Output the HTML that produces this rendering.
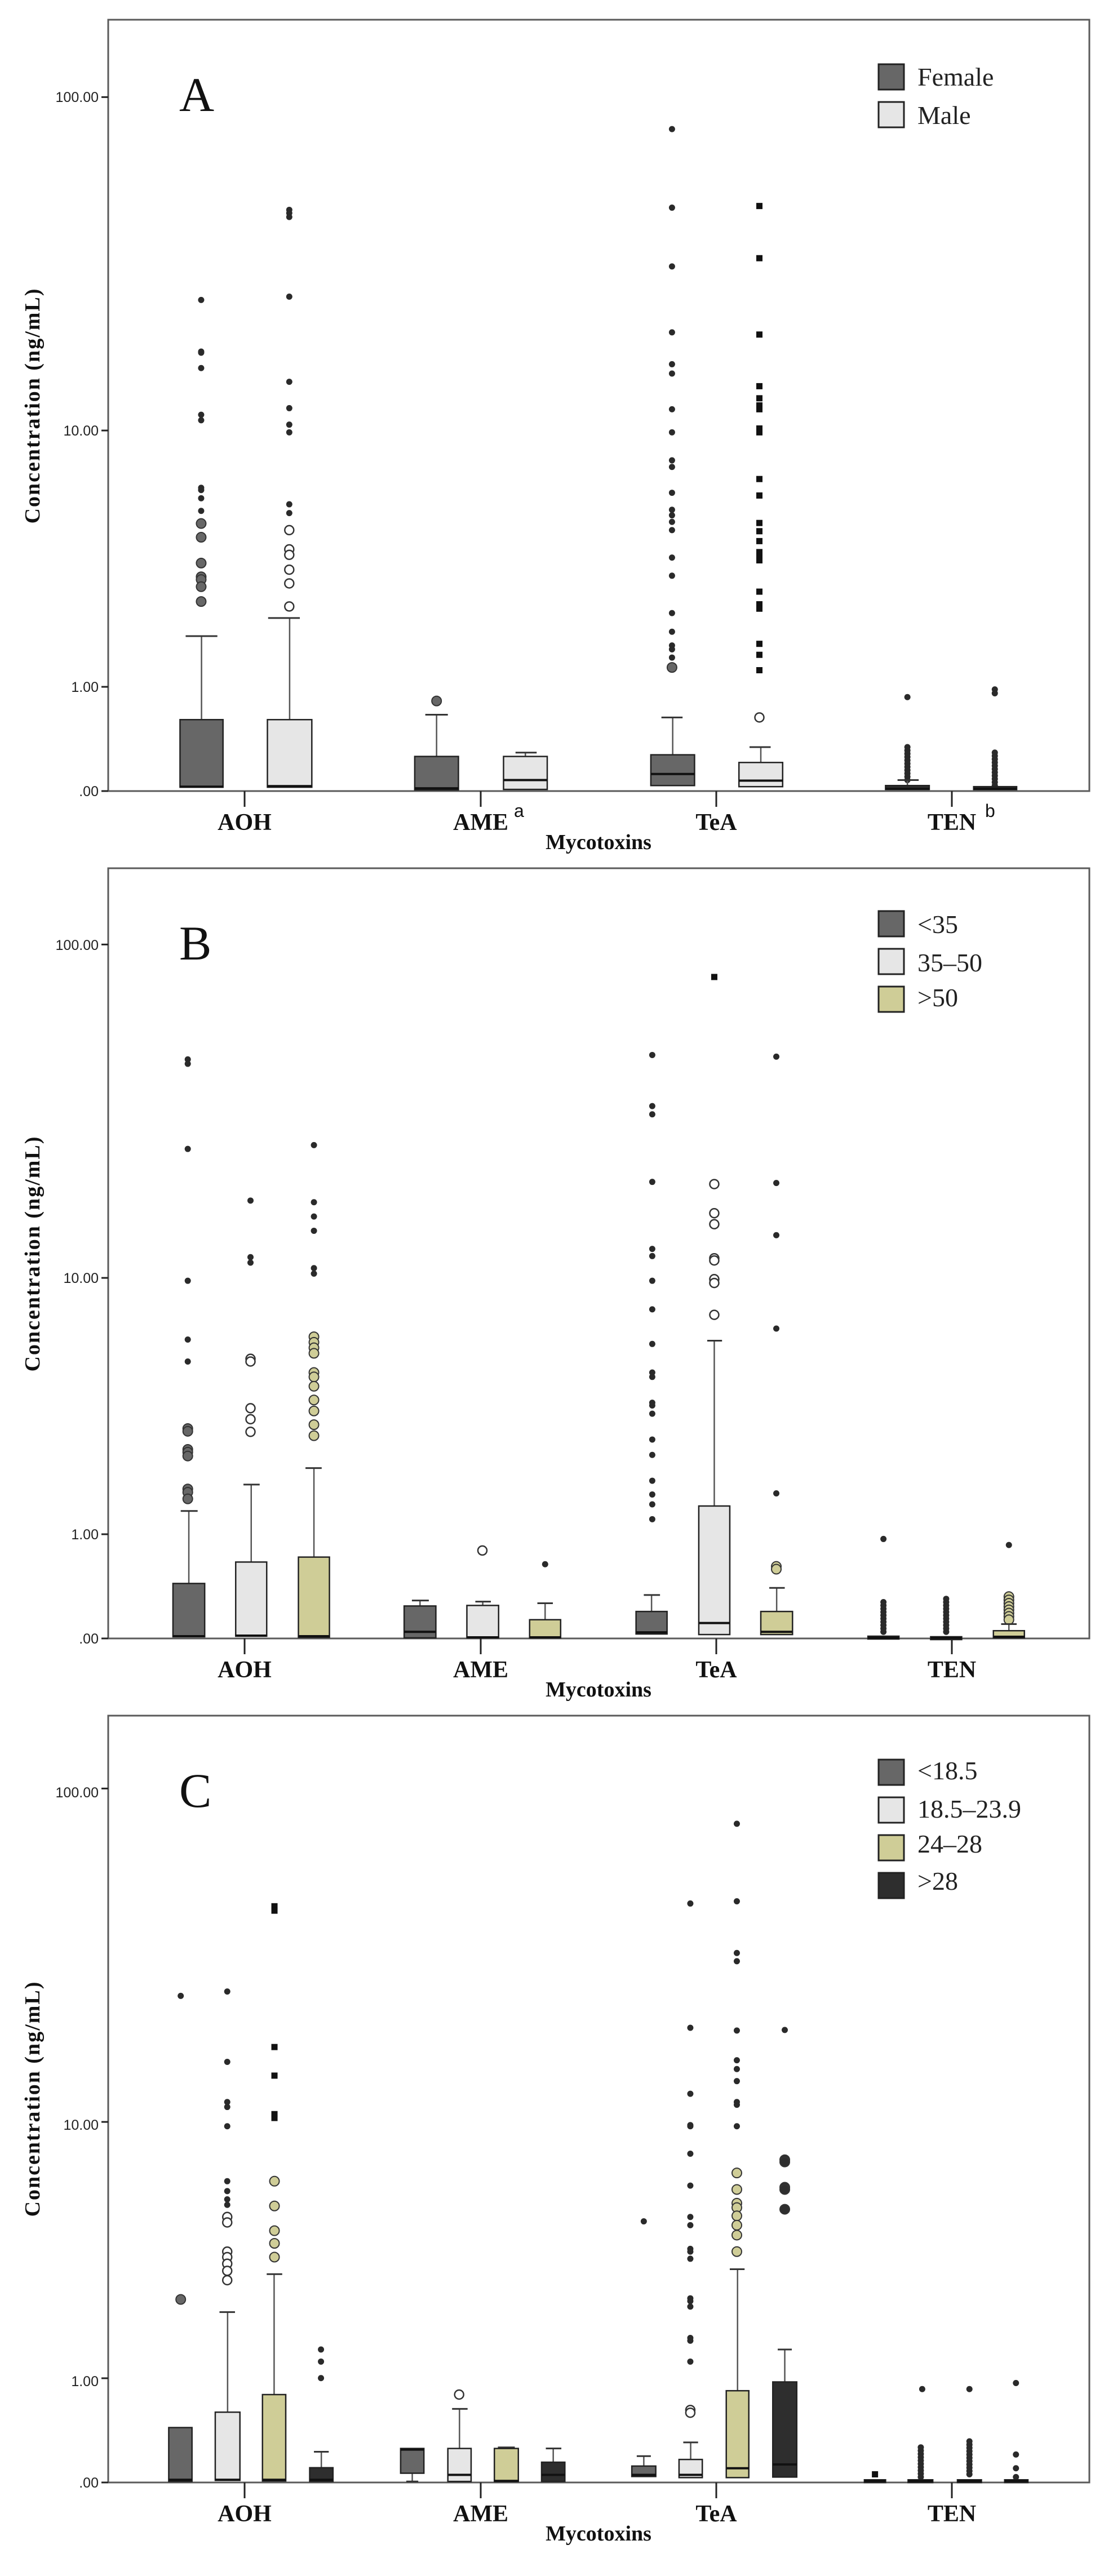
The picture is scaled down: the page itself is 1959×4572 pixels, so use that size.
<!DOCTYPE html>
<html><head><meta charset="utf-8"><style>
html,body{margin:0;padding:0;background:#fff;}
svg{display:block;}
.tk{font-family:"Liberation Sans",sans-serif;font-size:25px;fill:#222;}
.cat{font-family:"Liberation Serif",serif;font-size:42px;font-weight:bold;fill:#111;}
.mx{font-family:"Liberation Serif",serif;font-size:38px;font-weight:bold;fill:#111;}
.yl{font-family:"Liberation Serif",serif;font-size:38px;font-weight:bold;fill:#111;letter-spacing:2px;}
.pl{font-family:"Liberation Serif",serif;font-size:86px;fill:#111;}
.lg{font-family:"Liberation Serif",serif;font-size:46px;fill:#222;}
.sup{font-family:"Liberation Sans",sans-serif;font-size:32px;fill:#111;}
</style></head><body>
<svg id="s" width="1959" height="4572" viewBox="0 0 1959 4572" xmlns="http://www.w3.org/2000/svg">
<rect width="1959" height="4572" fill="#fff"/>
<g id="shapes"></g>
<text class="pl" x="318" y="197">A</text>
<text class="tk" x="175" y="181" text-anchor="end">100.00</text>
<text class="tk" x="175" y="773" text-anchor="end">10.00</text>
<text class="tk" x="175" y="1228" text-anchor="end">1.00</text>
<text class="tk" x="175" y="1413" text-anchor="end">.00</text>
<text class="cat" x="434" y="1473" text-anchor="middle">AOH</text>
<text class="cat" x="853" y="1473" text-anchor="middle">AME</text><text class="sup" x="912" y="1450">a</text>
<text class="cat" x="1271" y="1473" text-anchor="middle">TeA</text>
<text class="cat" x="1689" y="1473" text-anchor="middle">TEN</text><text class="sup" x="1748" y="1450">b</text>
<text class="mx" x="1062" y="1507" text-anchor="middle">Mycotoxins</text>
<text class="yl" transform="translate(70,720) rotate(-90)" text-anchor="middle">Concentration (ng/mL)</text>
<text class="lg" x="1628" y="152">Female</text>
<text class="lg" x="1628" y="220">Male</text>
<text class="pl" x="318" y="1703">B</text>
<text class="tk" x="175" y="1686" text-anchor="end">100.00</text>
<text class="tk" x="175" y="2277" text-anchor="end">10.00</text>
<text class="tk" x="175" y="2732" text-anchor="end">1.00</text>
<text class="tk" x="175" y="2917" text-anchor="end">.00</text>
<text class="cat" x="434" y="2977" text-anchor="middle">AOH</text>
<text class="cat" x="853" y="2977" text-anchor="middle">AME</text>
<text class="cat" x="1271" y="2977" text-anchor="middle">TeA</text>
<text class="cat" x="1689" y="2977" text-anchor="middle">TEN</text>
<text class="mx" x="1062" y="3011" text-anchor="middle">Mycotoxins</text>
<text class="yl" transform="translate(70,2225) rotate(-90)" text-anchor="middle">Concentration (ng/mL)</text>
<text class="lg" x="1628" y="1656">&lt;35</text>
<text class="lg" x="1628" y="1724">35–50</text>
<text class="lg" x="1628" y="1786">&gt;50</text>
<text class="pl" x="318" y="3207">C</text>
<text class="tk" x="175" y="3190" text-anchor="end">100.00</text>
<text class="tk" x="175" y="3780" text-anchor="end">10.00</text>
<text class="tk" x="175" y="4235" text-anchor="end">1.00</text>
<text class="tk" x="175" y="4415" text-anchor="end">.00</text>
<text class="cat" x="434" y="4475" text-anchor="middle">AOH</text>
<text class="cat" x="853" y="4475" text-anchor="middle">AME</text>
<text class="cat" x="1271" y="4475" text-anchor="middle">TeA</text>
<text class="cat" x="1689" y="4475" text-anchor="middle">TEN</text>
<text class="mx" x="1062" y="4509" text-anchor="middle">Mycotoxins</text>
<text class="yl" transform="translate(70,3725) rotate(-90)" text-anchor="middle">Concentration (ng/mL)</text>
<text class="lg" x="1628" y="3158">&lt;18.5</text>
<text class="lg" x="1628" y="3226">18.5–23.9</text>
<text class="lg" x="1628" y="3288">24–28</text>
<text class="lg" x="1628" y="3354">&gt;28</text>
</svg>
<script>
(function(){
var NS="http://www.w3.org/2000/svg",G=document.getElementById("shapes");
var DG="#676767",LG="#e6e6e6",KH="#cfcd97",BK="#2e2e2e";
function X(x){return x*1.2507-2;}
function el(t,a){var e=document.createElementNS(NS,t);for(var k in a)e.setAttribute(k,a[k]);G.appendChild(e);return e;}
var P;
function Y(y){return P.oy+y*P.fy;}
function panel(top,axis){
 el("rect",{x:192,y:top,width:1741,height:axis-top,fill:"none",stroke:"#5a5a5a","stroke-width":3});
 var k=614.5;[0,1,10,100].forEach(function(v){var y=axis-k*Math.log10(v+1);el("line",{x1:180,x2:192,y1:y,y2:y,stroke:"#222","stroke-width":3});});
 [434,853,1271,1689].forEach(function(x){el("line",{x1:x,x2:x,y1:axis,y2:axis+28,stroke:"#222","stroke-width":3});});
}
function legend(top,cols){cols.forEach(function(c,i){el("rect",{x:1559,y:top+i*67,width:45,height:45,fill:c,stroke:"#222","stroke-width":3});});}
function bx(x1,x2,t,b,m,w,c1,c2,fill,wb){
 var cx=X((x1+x2)/2);
 if(w!=null){el("line",{x1:cx,x2:cx,y1:Y(w),y2:Y(t),stroke:"#555","stroke-width":2.5});
  el("line",{x1:X(c1),x2:X(c2),y1:Y(w),y2:Y(w),stroke:"#333","stroke-width":3});}
 if(wb!=null){el("line",{x1:cx,x2:cx,y1:Y(b),y2:Y(wb),stroke:"#555","stroke-width":2.5});
  el("line",{x1:X(x1+8),x2:X(x2-8),y1:Y(wb),y2:Y(wb),stroke:"#333","stroke-width":3});}
 var h=Math.max(Y(b)-Y(t),5);
 el("rect",{x:X(x1),y:Y(t),width:X(x2)-X(x1),height:h,fill:fill,stroke:"#222","stroke-width":2.5});
 el("line",{x1:X(x1),x2:X(x2),y1:Y(m),y2:Y(m),stroke:"#111","stroke-width":4});
}
function pts(x,ys,type,col){ys.forEach(function(y){mk(x,y,type,col);});}
function dense(x,y1,y2,type,col){for(var y=y1;y<=y2;y+=6)mk(x,y,type,col);}
function mk(x,y,type,col){
 var cx=X(x),cy=Y(y);
 if(type=="s"){el("circle",{cx:cx,cy:cy,r:5.5,fill:"#2a2a2a"});}
 else if(type=="q"){el("rect",{x:cx-5.5,y:cy-5.5,width:11,height:11,fill:"#111"});}
 else if(type=="o"){el("circle",{cx:cx,cy:cy,r:8,fill:"#fff",stroke:"#333","stroke-width":2.5});}
 else {el("circle",{cx:cx,cy:cy,r:8.5,fill:col||DG,stroke:"#333","stroke-width":2});}
}
P={oy:0,fy:0.975};
panel(35,1404);legend(114,[DG,LG]);
bx(257,318,1310,1433,1432,1158,265,310,DG);
pts(287,[546,640,642,670,755,765,888,892,907,930],"s");
pts(287,[953,978,1025,1050,1055,1068,1095],"c",DG);
bx(381,444,1310,1433,1431,1125,382,427,LG);
pts(412,[382,388,395,540,695,743,773,787,918,934],"s");
pts(412,[965,1000,1010,1037,1062,1104],"o");
bx(590,652,1377,1438,1435,1301,605,637,DG);mk(621,1276,"c",DG);
bx(716,778,1377,1437,1420,1370,733,763,LG);
bx(925,987,1374,1430,1409,1306,940,970,DG);
pts(955,[235,378,485,605,663,680,745,787,838,850,897,928,938,950,965,1015,1048,1116,1150,1175,1182,1197],"s");
mk(955,1215,"c",DG);
bx(1050,1112,1388,1432,1421,1360,1065,1095,LG);
pts(1079,[375,470,609,703,725,738,745,780,787,872,902,952,967,985,1005,1012,1020,1077,1100,1108,1172,1192,1220],"q");
mk(1079,1306,"o");
dense(1289,1360,1420,"s");mk(1289,1269,"s");
bx(1258,1320,1430,1437,1436,1420,1275,1305,BK);
dense(1413,1370,1430,"s");pts(1413,[1255,1262],"s");
bx(1383,1444,1432,1437,1436,null,0,0,BK);
P={oy:1500,fy:0.975};
panel(1541,2908);legend(1617,[DG,LG,KH]);
bx(247,292,1344,1441,1440,1212,258,282,DG);
pts(268,[390,398,553,793,900,940],"s");
pts(268,[1062,1067,1100,1105,1112,1172,1178,1190],"c",DG);
bx(336,380,1305,1440,1439,1164,347,370,LG);
pts(357,[647,750,760],"s");pts(357,[935,940,1025,1045,1068],"o");
bx(425,469,1296,1442,1440,1134,435,458,KH);
pts(447,[546,650,676,702,770,780],"s");
pts(447,[895,905,915,925,960,968,985,1010,1030,1055,1075],"c",KH);
bx(575,620,1385,1443,1432,1375,586,610,DG);
bx(664,709,1384,1443,1442,1377,676,698,LG);mk(686,1284,"o");
bx(753,797,1410,1443,1442,1380,764,786,KH);mk(775,1309,"s");
bx(904,948,1395,1436,1433,1365,915,938,DG);
pts(927,[382,475,490,613,735,748,793,845,908,960,968,1015,1020,1035,1082,1110,1157,1182,1200,1227],"s");
bx(993,1037,1203,1437,1416,902,1005,1026,LG);
pts(1015,[617,670,690,752,756,790,797,855],"o");mk(1015,240,"q");
bx(1081,1126,1395,1437,1432,1352,1093,1115,KH);
pts(1103,[385,615,710,880,1180],"s");pts(1103,[1313,1318],"c",KH);
dense(1255,1378,1436,"s");mk(1255,1263,"s");
bx(1233,1277,1440,1444,1443,null,0,0,BK);
dense(1344,1372,1435,"s");
bx(1322,1366,1441,1444,1443,null,0,0,BK);
dense(1433,1368,1410,"c",KH);mk(1433,1274,"s");
bx(1411,1455,1430,1443,1441,1418,1422,1444,KH);
P={oy:3030,fy:0.976};
panel(3045,4406);legend(3123,[DG,LG,KH,BK]);
bx(241,274,1310,1408,1405,null,0,0,DG);mk(258,1077,"c",DG);mk(258,525,"s");
bx(307,342,1282,1406,1405,1100,313,335,LG);
pts(324,[517,645,718,727,762,862,880,895,905],"s");
pts(324,[927,937,990,1000,1012,1025,1042],"o");
bx(374,407,1250,1407,1405,1031,380,402,KH);
pts(391,[362,370,618,670,740,747],"q");
pts(391,[862,907,952,975,1000],"c",KH);
bx(441,474,1383,1408,1405,1354,447,468,BK);
pts(457,[1168,1190,1220],"s");
bx(570,603,1348,1393,1350,null,0,0,DG,1408);
bx(637,670,1348,1408,1396,1276,643,665,LG);mk(653,1250,"o");
bx(703,737,1348,1408,1407,1346,708,732,KH);
bx(770,803,1373,1408,1396,1348,776,798,BK);
bx(898,932,1380,1399,1396,1362,905,925,DG);mk(915,935,"s");
bx(965,998,1368,1401,1396,1337,971,992,LG);
pts(981,[357,583,703,760,762,812,870,927,942,985,990,1003,1075,1080,1090,1147,1152,1190],"s");
pts(981,[1278,1283],"o");
bx(1032,1064,1243,1401,1384,1022,1037,1058,KH);
pts(1047,[212,353,447,462,588,642,658,680,718,723,762],"s");
pts(1047,[847,877,902,910,925,942,960,990],"c",KH);
bx(1098,1132,1227,1400,1377,1168,1105,1125,BK);
mk(1115,587,"s");pts(1115,[823,827,873,877,913],"c",BK);
bx(1228,1258,1405,1408,1407,null,0,0,BK);mk(1243,1395,"q");
dense(1308,1346,1400,"s");mk(1310,1240,"s");
bx(1290,1325,1405,1408,1407,null,0,0,BK);
dense(1377,1335,1400,"s");mk(1377,1240,"s");
bx(1360,1394,1405,1408,1407,null,0,0,BK);
pts(1443,[1229,1359,1384,1400],"s");
bx(1427,1460,1405,1408,1407,null,0,0,BK);
})();
</script>
</body></html>
